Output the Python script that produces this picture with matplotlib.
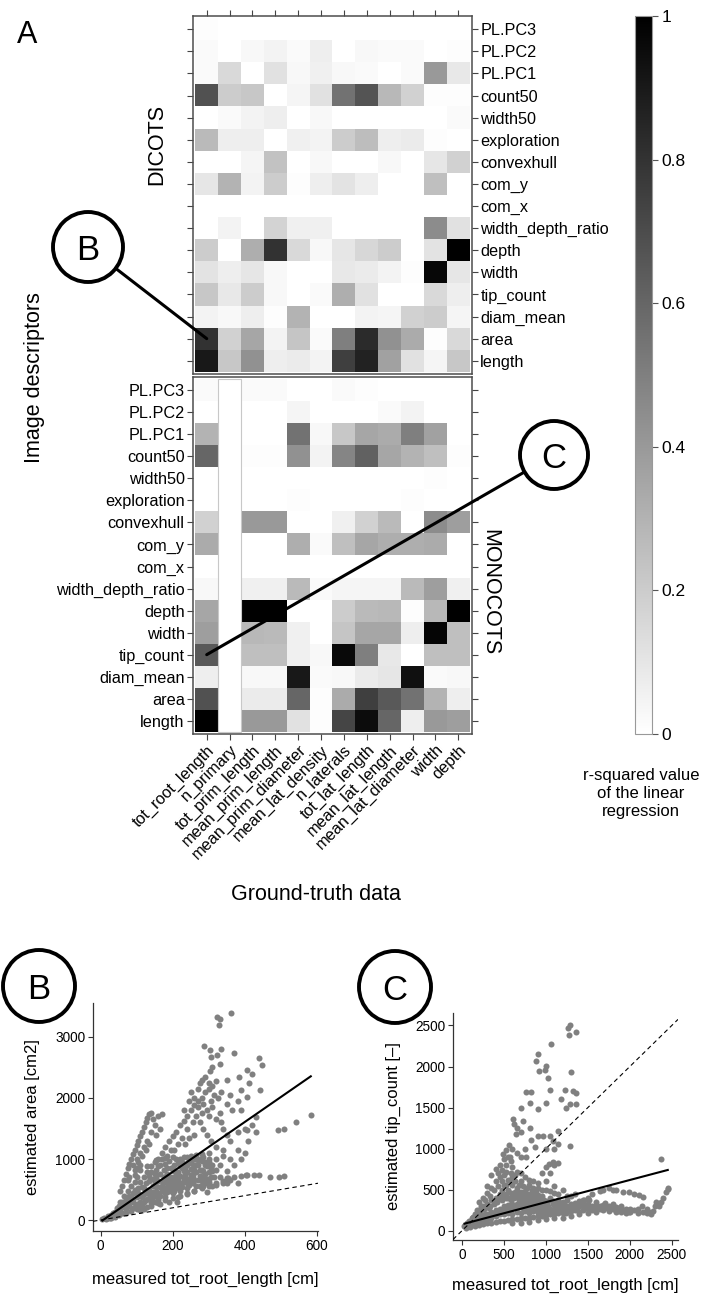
import numpy as np
import matplotlib.pyplot as plt
from matplotlib.colors import LinearSegmentedColormap
from matplotlib.patches import Circle, Rectangle

plt.rcParams['font.family'] = ['Liberation Sans', 'DejaVu Sans']

nan = np.nan

# ground-truth columns and image descriptor rows (top to bottom)
gt_cols = ['tot_root_length', 'n_primary', 'tot_prim_length', 'mean_prim_length',
           'mean_prim_diameter', 'mean_lat_density', 'n_laterals', 'tot_lat_length',
           'mean_lat_length', 'mean_lat_diameter', 'width', 'depth']
descriptors = ['PL.PC3', 'PL.PC2', 'PL.PC1', 'count50', 'width50', 'exploration',
               'convexhull', 'com_y', 'com_x', 'width_depth_ratio', 'depth', 'width',
               'tip_count', 'diam_mean', 'area', 'length']

# r-squared values, dicots
dicots = [
    [0.01, 0, 0, 0, 0, 0, 0, 0, 0, 0, 0, 0],
    [0.02, 0, 0.03, 0.05, 0.02, 0.07, 0, 0.03, 0.02, 0.02, 0, 0.01],
    [0.02, 0.15, 0, 0.12, 0.03, 0.06, 0.03, 0.02, 0, 0.02, 0.40, 0.09],
    [0.68, 0.20, 0.22, 0, 0.04, 0.12, 0.55, 0.67, 0.28, 0.18, 0.01, 0.01],
    [0, 0.02, 0.05, 0.07, 0, 0.03, 0, 0, 0, 0, 0, 0.02],
    [0.27, 0.07, 0.07, 0, 0.06, 0.05, 0.20, 0.26, 0.07, 0.08, 0.01, 0],
    [0, 0, 0.04, 0.24, 0, 0.03, 0, 0, 0.03, 0, 0.10, 0.18],
    [0.10, 0.30, 0.05, 0.20, 0.01, 0.07, 0.11, 0.07, 0, 0, 0.25, 0],
    [0, 0, 0, 0, 0, 0, 0, 0, 0, 0, 0, 0],
    [0, 0.05, 0, 0.17, 0.06, 0.06, 0, 0, 0, 0, 0.45, 0.12],
    [0.20, 0, 0.32, 0.80, 0.15, 0.03, 0.10, 0.16, 0.20, 0, 0.11, 1.0],
    [0.11, 0.07, 0.10, 0.03, 0, 0, 0.09, 0.08, 0.05, 0.01, 0.97, 0.10],
    [0.22, 0.09, 0.20, 0.03, 0, 0.02, 0.32, 0.12, 0, 0, 0.15, 0.07],
    [0.05, 0.03, 0.07, 0.01, 0.30, 0, 0, 0.05, 0.04, 0.18, 0.20, 0.04],
    [0.80, 0.18, 0.35, 0.05, 0.23, 0.02, 0.50, 0.83, 0.43, 0.33, 0.01, 0.15],
    [0.90, 0.22, 0.43, 0.07, 0.08, 0.05, 0.75, 0.86, 0.37, 0.12, 0.04, 0.22],
]

# r-squared values, monocots (n_primary not available)
monocots = [
    [0.02, nan, 0.02, 0.02, 0, 0, 0.02, 0.01, 0, 0, 0, 0],
    [0, nan, 0, 0, 0.04, 0, 0, 0, 0.02, 0.05, 0, 0],
    [0.30, nan, 0, 0, 0.55, 0.03, 0.22, 0.35, 0.33, 0.50, 0.37, 0],
    [0.60, nan, 0.01, 0.01, 0.43, 0.05, 0.48, 0.62, 0.35, 0.30, 0.25, 0.01],
    [0, nan, 0, 0, 0, 0, 0, 0, 0, 0, 0.01, 0],
    [0, nan, 0, 0, 0.01, 0, 0, 0, 0, 0.01, 0, 0],
    [0.18, nan, 0.40, 0.40, 0, 0, 0.06, 0.18, 0.27, 0, 0.45, 0.38],
    [0.33, nan, 0, 0, 0.32, 0.02, 0.25, 0.35, 0.32, 0.32, 0.33, 0],
    [0, nan, 0, 0, 0, 0, 0, 0, 0, 0, 0, 0],
    [0.03, nan, 0.06, 0.06, 0.27, 0.02, 0.04, 0.04, 0.04, 0.27, 0.38, 0.06],
    [0.35, nan, 1.0, 1.0, 0, 0, 0.20, 0.27, 0.28, 0.01, 0.28, 1.0],
    [0.38, nan, 0.28, 0.27, 0.06, 0, 0.23, 0.35, 0.35, 0.07, 0.98, 0.25],
    [0.65, nan, 0.25, 0.25, 0.06, 0.03, 0.96, 0.50, 0.09, 0, 0.25, 0.25],
    [0.07, nan, 0.03, 0.03, 0.90, 0.02, 0.03, 0.08, 0.10, 0.93, 0.02, 0.03],
    [0.68, nan, 0.08, 0.08, 0.60, 0.01, 0.33, 0.75, 0.65, 0.55, 0.30, 0.07],
    [1.0, nan, 0.40, 0.40, 0.12, 0.01, 0.73, 0.95, 0.60, 0.07, 0.40, 0.38],
]

cb_ticks = [0, 0.2, 0.4, 0.6, 0.8, 1]
cb_labels = ['0', '0.2', '0.4', '0.6', '0.8', '1']

# panel B: measured tot_root_length [cm] vs estimated area [cm2]
b_points = [
    (5, 10), (10, 30), (15, 20), (20, 60), (25, 40), (30, 90), (35, 70), (40, 130), (45, 100),
    (50, 170), (55, 140), (60, 210), (60, 120), (40, 50), (50, 80), (65, 250), (70, 180), (75, 300),
    (80, 230), (85, 150), (70, 350), (80, 400), (90, 300), (95, 220), (100, 180), (90, 450),
    (100, 380), (105, 520), (110, 300), (115, 250), (120, 430), (125, 600), (130, 350), (135, 500),
    (140, 280), (145, 680), (150, 420), (155, 560), (160, 330), (165, 760), (170, 480), (175, 620),
    (180, 380), (185, 850), (190, 540), (195, 700), (200, 440), (205, 900), (210, 600), (215, 780),
    (220, 480), (225, 950), (230, 680), (235, 860), (240, 520), (245, 980), (250, 740), (255, 600),
    (260, 900), (265, 1000), (270, 650), (275, 820), (280, 960), (285, 560), (290, 750), (295, 880),
    (300, 1000), (300, 620), (120, 700), (130, 880), (140, 780), (150, 950), (160, 880), (170, 1000),
    (180, 700), (190, 960), (200, 820), (210, 1000), (220, 880), (230, 1030), (240, 780), (250, 1050),
    (260, 820), (110, 620), (100, 700), (85, 560), (95, 620), (160, 640), (175, 820), (205, 700),
    (235, 640), (265, 780), (200, 560), (185, 460), (150, 300), (130, 220), (110, 160), (165, 260),
    (190, 300), (215, 380), (240, 420), (260, 470), (280, 520), (145, 560), (155, 700), (170, 560),
    (185, 620), (195, 480), (210, 520), (225, 600), (245, 680), (255, 860), (270, 900), (285, 700),
    (290, 900), (120, 520), (135, 640), (150, 760), (165, 900), (180, 920), (195, 860), (215, 940),
    (230, 800), (250, 940), (275, 1000), (140, 380), (160, 440), (180, 520), (200, 640), (220, 720),
    (240, 900), (260, 1000), (280, 820), (300, 780), (310, 900), (315, 700), (320, 820), (60, 300),
    (70, 260), (50, 230), (30, 40), (20, 30), (35, 120),
    (45, 200), (55, 300), (65, 400), (75, 480), (85, 380), (95, 500), (105, 420), (115, 540),
    (125, 480), (135, 720), (145, 460), (155, 820), (165, 540), (175, 700), (185, 760), (195, 620),
    (205, 800), (215, 660), (225, 860), (235, 740), (245, 580), (255, 700), (265, 900), (275, 720),
    (285, 800), (295, 680), (305, 860), (125, 330), (145, 380), (165, 400), (185, 540), (205, 480),
    (225, 540), (245, 620), (265, 560), (285, 620), (305, 700), (115, 380), (135, 420), (155, 480),
    (175, 520), (195, 580), (215, 620), (235, 700), (255, 760), (275, 560), (295, 600), (100, 260),
    (120, 300), (140, 340), (160, 380), (180, 440), (200, 500), (220, 560), (240, 600), (260, 650),
    (280, 700), (80, 300), (90, 350), (105, 450), (160, 1000), (180, 1020), (200, 1040), (220, 1000),
    (240, 1040), (265, 1060), (285, 1040), (300, 950), (90, 200), (70, 120), (110, 240), (150, 620),
    (170, 640), (190, 680), (210, 740), (230, 920), (250, 840), (270, 980), (140, 880), (155, 980),
    (130, 780), (110, 820), (95, 740),
    # left arm
    (55, 480), (60, 560), (65, 650), (70, 750), (75, 850), (80, 920), (85, 1000), (90, 1080),
    (95, 1150), (100, 1230), (105, 1300), (110, 1380), (115, 1450), (120, 1530), (125, 1600),
    (130, 1680), (135, 1730), (140, 1750), (100, 1000), (110, 1100), (120, 1200), (130, 1300),
    (140, 1450), (150, 1550), (90, 900), (80, 700), (145, 1650), (160, 1700), (170, 1730),
    (155, 1400), (165, 1500), (75, 650), (95, 820), (105, 950), (115, 1050), (125, 1150),
    (135, 1250), (100, 850), (110, 900),
    # upper arm
    (170, 1100), (180, 1200), (190, 1300), (200, 1380), (210, 1450), (220, 1550), (230, 1620),
    (240, 1700), (250, 1800), (260, 1880), (270, 1950), (280, 2000), (290, 2100), (300, 2150),
    (310, 2200), (320, 2280), (250, 2100), (260, 2000), (270, 1850), (285, 1900), (295, 1800),
    (305, 1950), (315, 2050), (325, 2000), (330, 1750), (335, 1600), (300, 1700), (280, 1750),
    (240, 1500), (215, 1250), (195, 1150), (230, 1800), (245, 1950), (300, 2250), (290, 2350),
    (275, 2250), (335, 2100), (310, 1850), (320, 1650), (340, 1500), (350, 1400), (185, 1050),
    (205, 1150), (225, 1350), (235, 1250), (255, 1600), (265, 1700), (275, 1600), (285, 1500),
    (295, 1400), (305, 1300), (260, 1400), (245, 1350),
    # right of the fit
    (300, 1100), (320, 1200), (340, 1050), (360, 1300), (380, 1450), (400, 1500), (420, 1550),
    (360, 1000), (330, 900), (350, 800), (370, 900), (390, 1000), (410, 1300), (430, 1450),
    (310, 800), (290, 950), (320, 1000), (340, 1150), (280, 1080), (380, 1150), (400, 1100),
    (300, 680), (330, 700), (350, 690), (370, 710), (390, 720), (405, 737), (426, 737), (440, 730),
    (470, 700), (496, 710), (510, 720), (320, 600), (350, 600), (380, 600), (296, 464), (212, 300),
    (280, 640), (310, 560), (340, 640), (360, 650), (120, 180), (140, 230), (160, 280), (180, 320),
    (200, 360), (220, 400), (240, 440), (260, 480), (300, 560), (320, 580), (340, 600),
    # sparse top
    (363, 3385), (324, 3330), (330, 3290), (328, 3195), (288, 2855), (303, 2785), (335, 2810),
    (370, 2730), (324, 2700), (307, 2675), (331, 2550), (303, 2440), (440, 2650), (449, 2540),
    (405, 2460), (384, 2350), (421, 2400), (412, 2240), (443, 2130), (389, 2130), (407, 2020),
    (365, 1800), (389, 1800), (431, 1690), (407, 1475), (491, 1475), (510, 1500), (542, 1610),
    (583, 1720), (402, 737), (353, 693), (270, 2150), (280, 2300), (310, 2500), (350, 2300),
    (360, 2050), (380, 1950), (350, 1900),
]
b_fit = (-29, 4.09)   # intercept, slope of the solid regression line

# panel C: measured tot_root_length [cm] vs estimated tip_count
c_points = [
    (1282, 2507), (1262, 2466), (1361, 2426), (1270, 2386), (1059, 2273), (905, 2152), (885, 2063),
    (1004, 2003), (984, 1963), (917, 1943), (1023, 1862), (1301, 1930), (1222, 1709), (1321, 1700),
    (1361, 1680), (1043, 1720), (825, 1692), (766, 1692), (1004, 1560), (905, 1479), (805, 1560),
    (706, 1499), (1182, 1600), (1242, 1499), (1282, 1540), (1361, 1548), (607, 1358), (726, 1338),
    (805, 1257), (647, 1177), (1143, 1217), (1043, 1157), (964, 1157), (1083, 1096), (1143, 1056),
    (1282, 1036), (488, 935), (567, 895), (766, 895), (865, 1016), (1036, 814), (1083, 834),
    (2373, 874), (2452, 512), (2432, 472), (2373, 351), (2313, 351), (620, 1300), (660, 1250),
    (700, 1200), (560, 1050), (600, 1000), (650, 950), (700, 900), (520, 980), (750, 1000),
    (820, 1100), (900, 1150), (1000, 1000), (1100, 1000),
    # right chain
    (1678, 492), (1837, 492), (1916, 472), (1996, 472), (2055, 451), (2115, 431), (2154, 411),
    (1440, 371), (1519, 371), (1599, 310), (1678, 310), (1757, 298), (1837, 290), (1916, 250),
    (1996, 230), (2154, 230), (2234, 230), (1678, 250), (1519, 270), (1400, 230), (1242, 210),
    (1440, 250), (1837, 230),
    # lower band
    (50, 30), (100, 40), (150, 60), (200, 70), (250, 80), (300, 90), (350, 100), (400, 110),
    (450, 120), (500, 120), (550, 130), (600, 140), (650, 140), (700, 150), (750, 160), (800, 160),
    (850, 170), (900, 180), (950, 180), (1000, 190), (1050, 200), (1100, 200), (1150, 210),
    (1200, 220), (1250, 230), (1300, 240), (1350, 250), (1100, 150), (1000, 140), (900, 130),
    (800, 110), (700, 100), (600, 90), (1200, 160), (1300, 180), (1400, 200), (1450, 260),
    (1500, 280), (1550, 250), (1600, 230), (1650, 260), (1700, 280), (1750, 240), (1800, 260),
    (1850, 240), (1900, 230), (1950, 220), (1500, 220), (2000, 230), (2100, 220), (2200, 220),
    (2250, 200),
    # main cloud
    (100, 80), (150, 120), (200, 150), (250, 180), (300, 200), (350, 230), (400, 250), (450, 270),
    (500, 300), (550, 310), (600, 320), (650, 330), (700, 330), (750, 320), (800, 310), (850, 300),
    (900, 290), (950, 280), (1000, 270), (1050, 260), (1100, 260), (1150, 270), (1200, 280),
    (1250, 300), (1300, 320), (1350, 340), (1400, 360), (1450, 380), (1500, 400), (1000, 320),
    (900, 360), (800, 380), (700, 400), (600, 420), (500, 430), (400, 400), (300, 330), (200, 250),
    (150, 200), (250, 300), (350, 380), (450, 450), (550, 500), (650, 520), (750, 480), (850, 450),
    (950, 420), (1050, 400), (1150, 380), (1250, 420), (1100, 460), (1000, 500), (900, 520),
    (800, 560), (700, 600), (600, 650), (500, 680), (400, 600), (350, 520), (300, 460), (250, 400),
    (200, 350), (300, 550), (350, 680), (400, 750), (450, 800), (500, 870), (550, 900), (600, 780),
    (650, 720), (700, 700), (750, 650), (800, 620), (850, 600), (900, 580), (1000, 600), (1100, 550),
    (1050, 700), (1100, 800), (1150, 820), (1000, 780), (950, 700), (450, 650), (500, 560),
    (550, 620), (600, 560), (650, 480), (700, 470), (750, 420), (800, 450), (850, 380), (900, 440),
    (950, 350), (1200, 350), (1300, 420), (1350, 450), (1400, 300), (1450, 320), (1600, 350),
    (1700, 340), (1800, 330), (1900, 300), (2000, 270), (2150, 300), (2300, 300), (2350, 320),
    (2450, 520), (1550, 450), (1650, 480), (1750, 520), (1800, 500), (30, 60), (60, 100), (80, 120),
    (120, 150), (180, 200), (220, 230), (260, 260), (280, 200), (320, 280), (380, 320), (420, 350),
    (480, 380), (520, 400), (580, 380), (620, 400), (680, 380), (720, 350), (780, 360), (820, 340),
    (880, 330), (920, 320), (980, 310), (1020, 300), (1080, 320), (1120, 300), (1180, 310),
    (1220, 320), (450, 200), (550, 220), (650, 230), (750, 240), (850, 240), (950, 230), (1050, 230),
    (500, 200), (600, 200), (700, 220), (800, 210), (900, 220), (1000, 220), (350, 160), (250, 130),
    (150, 100), (400, 180), (300, 140), (200, 110), (550, 400), (650, 420), (750, 380), (850, 520),
    (950, 500), (1050, 480), (1150, 450), (1200, 500), (1250, 380),
    (120, 100), (170, 140), (230, 160), (280, 170), (330, 190), (380, 210), (430, 230), (480, 250),
    (530, 260), (580, 270), (630, 280), (680, 290), (730, 280), (780, 270), (830, 260), (880, 250),
    (930, 240), (980, 250), (1030, 240), (1080, 250), (1130, 240), (1180, 250), (1230, 260),
    (1280, 270), (1330, 280), (1380, 290), (330, 300), (380, 360), (430, 400), (480, 420),
    (530, 450), (580, 460), (630, 470), (680, 450), (730, 440), (780, 420), (830, 400), (880, 400),
    (930, 380), (980, 380), (1030, 360), (1080, 360), (1130, 340), (1180, 340), (380, 500),
    (430, 550), (480, 600), (530, 560), (580, 600), (630, 600), (680, 560), (730, 540), (780, 520),
    (830, 500), (880, 480), (430, 700), (480, 740), (530, 720), (580, 700), (630, 680), (530, 800),
    (580, 850), (480, 500), (280, 380), (330, 420), (230, 300), (180, 250), (130, 170), (80, 80),
    (200, 200), (1300, 280), (1350, 300), (1400, 330), (1450, 290), (1500, 320), (1550, 300),
    (1600, 290), (1650, 300), (1700, 300), (1750, 290), (1800, 290), (1850, 280), (1900, 260),
    (1950, 260), (2050, 250), (2100, 260), (2200, 260), (2280, 240), (2350, 300), (2400, 400),
]
c_fit = (78, 0.27)

W, H = 703, 1295
fig = plt.figure(figsize=(W / 100, H / 100), dpi=100)


def px_axes(x0, y0, x1, y1):
    # axes placed by pixel box (top-left origin)
    return fig.add_axes([x0 / W, 1 - y1 / H, (x1 - x0) / W, (y1 - y0) / H])


cmap = LinearSegmentedColormap.from_list('wb', ['white', 'black'])
cmap.set_bad('white')

ax_d = px_axes(193, 16, 472, 374)
ax_m = px_axes(193, 377, 472, 734)
for ax, data in [(ax_d, dicots), (ax_m, monocots)]:
    im = ax.imshow(np.array(data, float), cmap=cmap, vmin=0, vmax=1,
                   aspect='auto', interpolation='nearest')
    ax.set_xlim(-0.6, len(gt_cols) - 0.4)
    ax.set_ylim(len(descriptors) - 0.4, -0.6)
    ax.set_xticks(range(len(gt_cols)))
    ax.set_yticks(range(len(descriptors)))
    for s in ax.spines.values():
        s.set_color('#4d4d4d')
        s.set_linewidth(1.1)
    ax.tick_params(length=4, width=0.8, color='#444444', labelsize=11.7, pad=2)

ax_d.set_yticklabels(descriptors)
ax_d.tick_params(top=True, bottom=False, left=True, right=True, labeltop=False,
                 labelbottom=False, labelleft=False, labelright=True)
ax_m.set_yticklabels(descriptors)
ax_m.set_xticklabels(gt_cols, rotation=45, ha='right', rotation_mode='anchor')
ax_m.tick_params(top=False, bottom=True, left=True, right=True, labelleft=True,
                 labelright=False, labelbottom=True)
j = gt_cols.index('n_primary')
ax_m.add_patch(Rectangle((j - 0.5, -0.5), 1, len(descriptors), fill=False,
                         ec='#c8c8c8', lw=0.8))

# colour bar
cax = px_axes(635, 16, 652, 734)
cb = fig.colorbar(im, cax=cax, ticks=cb_ticks)
cb.ax.set_yticklabels(cb_labels)
cb.outline.set_edgecolor('#999999')
cb.ax.tick_params(length=4, width=0.8, color='#555555', labelsize=12.5, pad=3)
fig.text(641 / W, 1 - 768 / H, 'r-squared value\nof the linear\nregression',
         ha='center', va='top', fontsize=12, linespacing=1.25)

fig.text(27 / W, 1 - 35 / H, 'A', ha='center', va='center', fontsize=22)
fig.text(157 / W, 1 - 144 / H, 'DICOTS', rotation=90, ha='center', va='center', fontsize=15.5)
fig.text(490 / W, 1 - 592 / H, 'MONOCOTS', rotation=270, ha='center', va='center', fontsize=15.5)
fig.text(35 / W, 1 - 378 / H, 'Image descriptors', rotation=90, ha='center', va='center',
         fontsize=15.5)
fig.text(316 / W, 1 - 894 / H, 'Ground-truth data', ha='center', va='center', fontsize=15.5)


def style_scatter(ax):
    for side in ['top', 'right']:
        ax.spines[side].set_visible(False)
    for side in ['left', 'bottom']:
        ax.spines[side].set_color('#333333')
        ax.spines[side].set_linewidth(0.9)
    ax.tick_params(length=3.5, width=0.8, color='#333333', labelsize=9.8, pad=2)


# B
bx = np.array([p[0] for p in b_points])
by = np.array([p[1] for p in b_points])
ax_b = px_axes(93, 1003, 318, 1231)
ax_b.scatter(bx, by, s=19, color='#808080', linewidths=0, zorder=2)
ax_b.set_xlim(-21, 603)
ax_b.set_ylim(-180, 3557)
ax_b.axline((0, 0), slope=1, color='black', lw=0.8, ls=(0, (4, 3)), zorder=3)
xs = np.array([bx.min(), bx.max()])
ax_b.plot(xs, b_fit[0] + b_fit[1] * xs, color='black', lw=1.5, zorder=3)
ax_b.set_xticks([0, 200, 400, 600])
ax_b.set_yticks([0, 1000, 2000, 3000])
style_scatter(ax_b)
ax_b.set_xlabel('measured tot_root_length [cm]', fontsize=12, labelpad=14)
ax_b.set_ylabel('estimated area [cm2]', fontsize=12, labelpad=11)

# C
cx = np.array([p[0] for p in c_points])
cy = np.array([p[1] for p in c_points])
ax_c = px_axes(453, 1013, 678, 1240)
ax_c.scatter(cx, cy, s=19, color='#808080', linewidths=0, zorder=2)
ax_c.set_xlim(-107, 2574)
ax_c.set_ylim(-113, 2652)
ax_c.axline((0, 0), slope=1, color='black', lw=0.8, ls=(0, (4, 3)), zorder=3)
xs = np.array([cx.min(), cx.max()])
ax_c.plot(xs, c_fit[0] + c_fit[1] * xs, color='black', lw=1.5, zorder=3)
ax_c.set_xticks([0, 500, 1000, 1500, 2000, 2500])
ax_c.set_yticks([0, 500, 1000, 1500, 2000, 2500])
style_scatter(ax_c)
ax_c.set_xlabel('measured tot_root_length [cm]', fontsize=12, labelpad=12)
ax_c.set_ylabel('estimated tip_count [\u2013]', fontsize=12, labelpad=10)

# overlay for the letter circles and pointer lines (pixel coords)
ov = fig.add_axes([0, 0, 1, 1], zorder=10)
ov.set_xlim(0, W)
ov.set_ylim(H, 0)
ov.axis('off')

circles = [('B', 88, 247, 35), ('C', 554, 455, 34), ('B', 39, 986, 36), ('C', 395, 987, 36)]
for letter, x0, y0, r in circles:
    ov.add_patch(Circle((x0, y0), r, fill=False, ec='black', lw=2.8))
    ov.text(x0, y0, letter, ha='center', va='center_baseline', fontsize=25)

# pointer lines from the first two circles to their heatmap cells
targets = [(ax_d, 'area', circles[0]), (ax_m, 'tip_count', circles[1])]
for ax, row, (letter, x0, y0, r) in targets:
    px, py = ax.transData.transform((gt_cols.index('tot_root_length'), descriptors.index(row)))
    tx, ty = px, H - py
    d = np.hypot(tx - x0, ty - y0)
    ex, ey = x0 + r * (tx - x0) / d, y0 + r * (ty - y0) / d
    ov.plot([ex, tx], [ey, ty], color='black', lw=2.2, solid_capstyle='round')

fig.savefig('out.png', dpi=100)
